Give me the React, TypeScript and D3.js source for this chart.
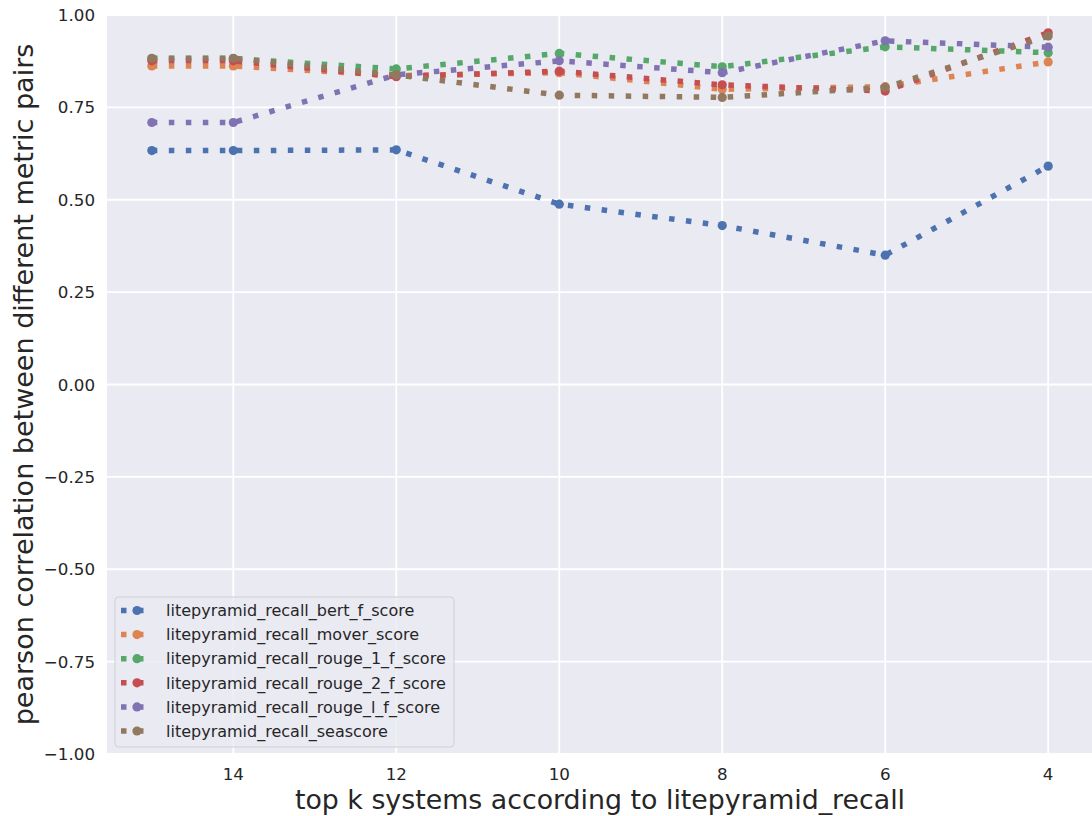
import React from "react";
import * as d3 from "d3";

// top-k system counts along the x axis (plotted right-to-left)
const topK = [15, 14, 12, 10, 8, 6, 4];

const seriesNames = [
  "litepyramid_recall_bert_f_score",
  "litepyramid_recall_mover_score",
  "litepyramid_recall_rouge_1_f_score",
  "litepyramid_recall_rouge_2_f_score",
  "litepyramid_recall_rouge_l_f_score",
  "litepyramid_recall_seascore",
];

const bertF = [0.633, 0.633, 0.635, 0.488, 0.43, 0.35, 0.591];
const mover = [0.862, 0.862, 0.836, 0.844, 0.799, 0.806, 0.873];
const rouge1F = [0.882, 0.882, 0.854, 0.896, 0.86, 0.914, 0.898];
const rouge2F = [0.876, 0.876, 0.833, 0.848, 0.811, 0.794, 0.952];
const rougeLF = [0.709, 0.709, 0.838, 0.876, 0.844, 0.93, 0.913];
const seascore = [0.883, 0.883, 0.838, 0.783, 0.777, 0.804, 0.943];

const seriesValues = [bertF, mover, rouge1F, rouge2F, rougeLF, seascore];

const palette = ["#4C72B0", "#DD8452", "#55A868", "#C44E52", "#8172B3", "#937860"];

const xTicks = [14, 12, 10, 8, 6, 4];
const yTicks = [1, 0.75, 0.5, 0.25, 0, -0.25, -0.5, -0.75, -1];

const W = 1092;
const H = 816;
const plot = { left: 107, right: 1093, top: 15, bottom: 754 };
const FONT = "'DejaVu Sans', sans-serif";
const TEXT = "#262626";
const DASH = "5.5 11.5";
const LW = 5.5;

export default function App() {
  const x = d3.scaleLinear().domain([15.55, 3.45]).range([plot.left, plot.right]);
  const y = d3.scaleLinear().domain([-1, 1]).range([plot.bottom, plot.top]);
  const line = d3
    .line<number>()
    .x((_, i) => x(topK[i]))
    .y((v) => y(v));

  const legend = { x: 115, y: 597, w: 339, h: 150, row: 24.1, first: 610.5 };

  return (
    <svg
      width={W}
      height={H}
      style={{ position: "absolute", left: 0, top: 0, background: "#fff" }}
      fontFamily={FONT}
    >
      <defs>
        <clipPath id="plotArea">
          <rect x={plot.left} y={plot.top} width={plot.right - plot.left} height={plot.bottom - plot.top} />
        </clipPath>
      </defs>
      <rect
        x={plot.left}
        y={plot.top}
        width={plot.right - plot.left}
        height={plot.bottom - plot.top}
        fill="#EAEAF2"
      />
      {/* grid */}
      {xTicks.map((t) => (
        <line key={"gx" + t} x1={x(t)} x2={x(t)} y1={plot.top} y2={plot.bottom} stroke="#fff" strokeWidth={1.8} />
      ))}
      {yTicks.map((t) => (
        <line key={"gy" + t} x1={plot.left} x2={plot.right} y1={y(t)} y2={y(t)} stroke="#fff" strokeWidth={1.8} />
      ))}

      {/* series */}
      <g clipPath="url(#plotArea)">
        {seriesValues.map((vals, si) => (
          <g key={seriesNames[si]}>
            <path
              d={line(vals) ?? ""}
              fill="none"
              stroke={palette[si]}
              strokeWidth={LW}
              strokeDasharray={DASH}
              strokeLinecap="butt"
            />
            {vals.map((v, i) => (
              <circle key={i} cx={x(topK[i])} cy={y(v)} r={4.6} fill={palette[si]} />
            ))}
          </g>
        ))}
      </g>

      {/* tick labels */}
      {xTicks.map((t) => (
        <text key={"tx" + t} x={x(t)} y={780} textAnchor="middle" fontSize={16.7} fill={TEXT}>
          {t}
        </text>
      ))}
      {yTicks.map((t) => (
        <text key={"ty" + t} x={95} y={y(t)} dy="0.36em" textAnchor="end" fontSize={16.7} fill={TEXT}>
          {d3.format(".2f")(t).replace("-", "\u2212")}
        </text>
      ))}

      {/* axis labels */}
      <text x={(plot.left + plot.right) / 2} y={809} textAnchor="middle" fontSize={26.8} fill={TEXT}>
        top k systems according to litepyramid_recall
      </text>
      <text
        transform={`translate(32.5, ${(plot.top + plot.bottom) / 2}) rotate(-90)`}
        textAnchor="middle"
        fontSize={27}
        fill={TEXT}
      >
        pearson correlation between different metric pairs
      </text>

      {/* legend */}
      <rect
        x={legend.x}
        y={legend.y}
        width={legend.w}
        height={legend.h}
        rx={3.5}
        fill="#EAEAF2"
        fillOpacity={0.8}
        stroke="#cfcfd6"
        strokeWidth={1}
      />
      {seriesNames.map((name, si) => {
        const cy = legend.first + si * legend.row;
        return (
          <g key={"lg" + name}>
            <line
              x1={121}
              x2={153}
              y1={cy}
              y2={cy}
              stroke={palette[si]}
              strokeWidth={LW}
              strokeDasharray={DASH}
            />
            <circle cx={137} cy={cy} r={4.6} fill={palette[si]} />
            <text x={166} y={cy} dy="0.36em" fontSize={16} fill={TEXT}>
              {name}
            </text>
          </g>
        );
      })}
    </svg>
  );
}
